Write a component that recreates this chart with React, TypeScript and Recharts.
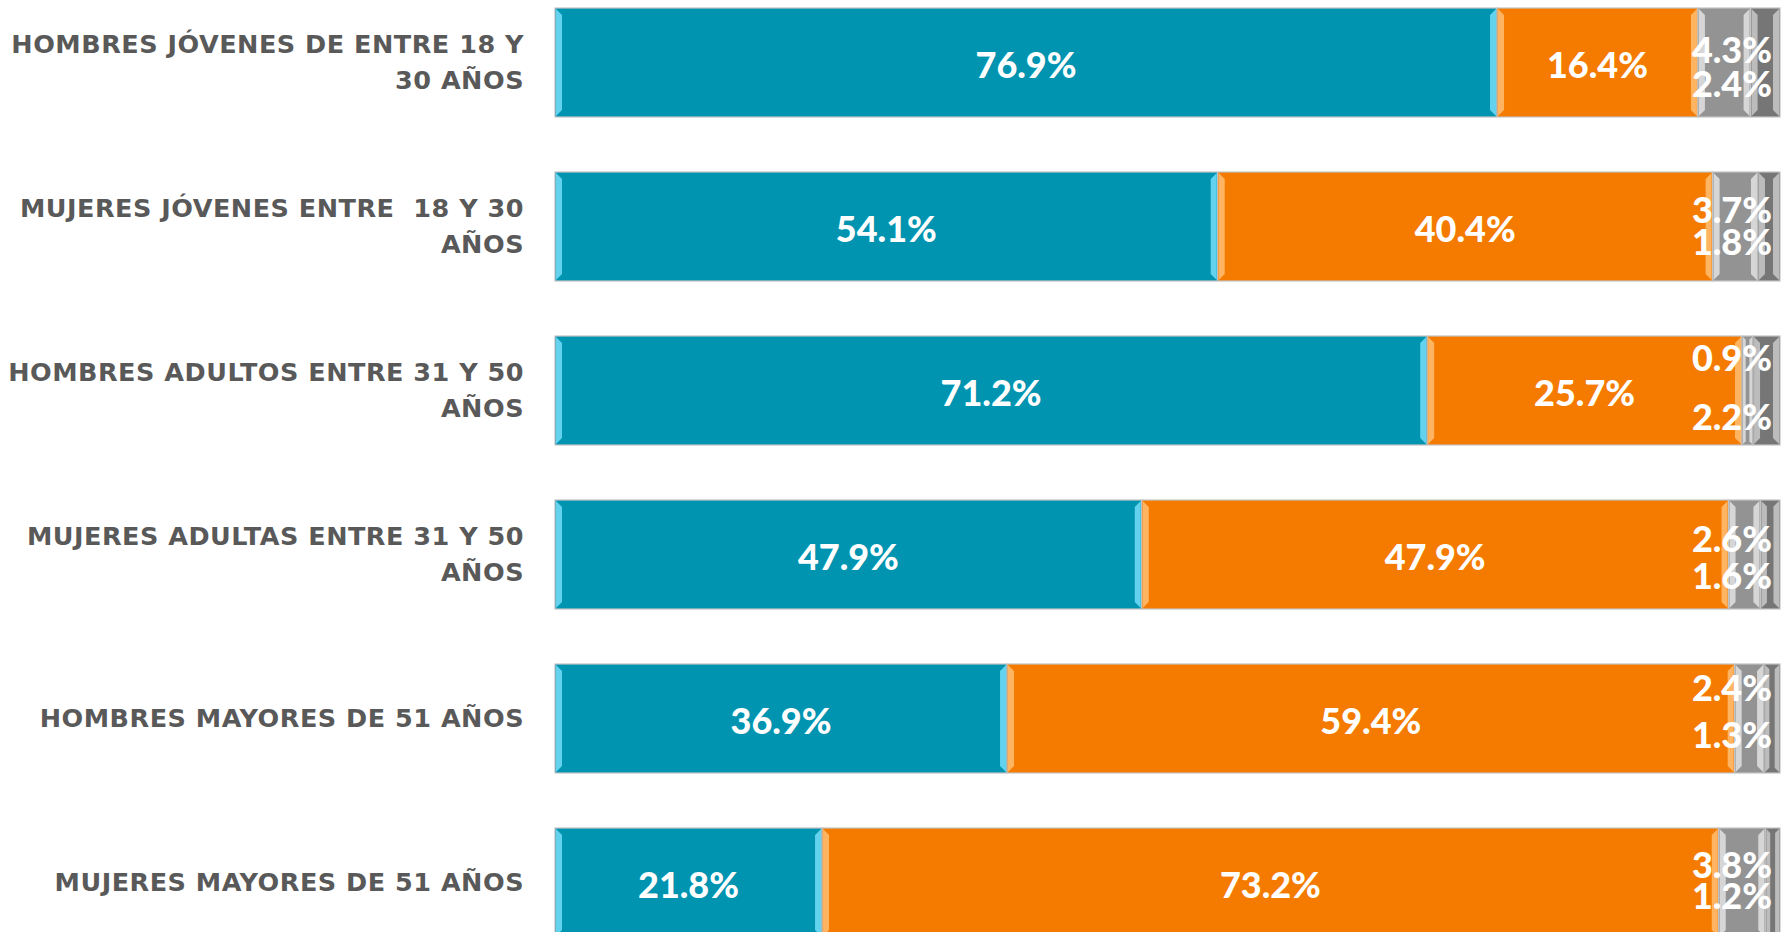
import React from 'react';
import { BarChart, Bar, XAxis, YAxis, LabelList } from 'recharts';

const categories = [
  'HOMBRES JÓVENES DE ENTRE 18 Y\n30 AÑOS',
  'MUJERES JÓVENES ENTRE  18 Y 30\nAÑOS',
  'HOMBRES ADULTOS ENTRE 31 Y 50\nAÑOS',
  'MUJERES ADULTAS ENTRE 31 Y 50\nAÑOS',
  'HOMBRES MAYORES DE 51 AÑOS',
  'MUJERES MAYORES DE 51 AÑOS',
];
const blueValues = [76.9, 54.1, 71.2, 47.9, 36.9, 21.8];
const orangeValues = [16.4, 40.4, 25.7, 47.9, 59.4, 73.2];
const grayValues = [4.3, 3.7, 0.9, 2.6, 2.4, 3.8];
const darkGrayValues = [2.4, 1.8, 2.2, 1.6, 1.3, 1.2];

// style: vertical nudges (px) of the two small grey labels per row
const GRAY_NUDGE = [
  [-12, 22],
  [-16, 16],
  [-32, 27],
  [-15, 22],
  [-30, 17],
  [-17, 14],
];

const data = categories.map((c, i) => ({
  name: c,
  blue: blueValues[i],
  orange: orangeValues[i],
  gray: grayValues[i],
  dark: darkGrayValues[i],
}));

const makeShape = (fill: string, light: string) => (props: any) => {
  const { x, y, width, height } = props;
  if (!width || !height) return null;
  const b = Math.min(7, width / 3);
  return (
    <g>
      <rect x={x} y={y} width={width} height={height} fill={fill} stroke="#c4c4c4" strokeWidth={1.2} />
      <polygon
        points={`${x + 1},${y + 1} ${x + b},${y + b} ${x + b},${y + height - b} ${x + 1},${y + height - 1}`}
        fill={light}
      />
      <polygon
        points={`${x + width - 1},${y + 1} ${x + width - b},${y + b} ${x + width - b},${y + height - b} ${x + width - 1},${y + height - 1}`}
        fill={light}
      />
    </g>
  );
};

const CategoryTick = (props: any) => {
  const { x, y, payload } = props;
  const lines: string[] = String(payload.value).split('\n');
  const lh = 36.5;
  const y0 = y - ((lines.length - 1) * lh) / 2;
  return (
    <g>
      {lines.map((l, i) => (
        <text
          key={i}
          x={x - 31}
          y={y0 + i * lh}
          dy="0.36em"
          textAnchor="end"
          fill="#595959"
          fontFamily="'DejaVu Sans', sans-serif"
          fontWeight="bold"
          fontSize={25.5}
          letterSpacing={0.5}
          style={{ whiteSpace: 'pre' }}
        >
          {l}
        </text>
      ))}
    </g>
  );
};

const valueFont = "Lato, 'DejaVu Sans', sans-serif";

const CenterLabel = (props: any) => {
  const { x, y, width, height, value } = props;
  return (
    <text
      x={x + width / 2}
      y={y + height / 2 + 3}
      dy="0.36em"
      textAnchor="middle"
      fill="#ffffff"
      fontFamily={valueFont}
      fontWeight={900}
      fontSize={36}
    >
      {`${Number(value).toFixed(1)}%`}
    </text>
  );
};

const RIGHT_TEXT_X = 1772;

const makeGrayLabel = (k: number) => (props: any) => {
  const { y, height, value, index } = props;
  const nudge = GRAY_NUDGE[index] ? GRAY_NUDGE[index][k] : 0;
  return (
    <text
      x={RIGHT_TEXT_X}
      y={y + height / 2 + nudge}
      dy="0.36em"
      textAnchor="end"
      fill="#ffffff"
      fontFamily={valueFont}
      fontWeight={900}
      fontSize={36}
    >
      {`${Number(value).toFixed(1)}%`}
    </text>
  );
};

export default function App() {
  return (
    <div
      style={{
        position: 'absolute',
        left: 0,
        top: 0,
        width: 1787,
        height: 932,
        overflow: 'hidden',
        background: '#ffffff',
      }}
    >
      <div style={{ position: 'absolute', left: 0, top: -20 }}>
        <BarChart
          width={1787}
          height={984}
          data={data}
          layout="vertical"
          margin={{ top: 0, right: 7, bottom: 0, left: 0 }}
          barSize={109}
        >
          <XAxis type="number" domain={[0, 100]} hide />
          <YAxis
            type="category"
            dataKey="name"
            width={555}
            axisLine={false}
            tickLine={false}
            tickSize={0}
            tickMargin={0}
            tick={<CategoryTick />}
            interval={0}
          />
          <Bar dataKey="blue" stackId="a" isAnimationActive={false} shape={makeShape('#0094B1', '#63d2ee')}>
            <LabelList dataKey="blue" content={CenterLabel} />
          </Bar>
          <Bar dataKey="orange" stackId="a" isAnimationActive={false} shape={makeShape('#F47B00', '#ffb462')}>
            <LabelList dataKey="orange" content={CenterLabel} />
          </Bar>
          <Bar dataKey="gray" stackId="a" isAnimationActive={false} shape={makeShape('#939393', '#d6d6d6')}>
            <LabelList dataKey="gray" content={makeGrayLabel(0)} />
          </Bar>
          <Bar dataKey="dark" stackId="a" isAnimationActive={false} shape={makeShape('#767676', '#bcbcbc')}>
            <LabelList dataKey="dark" content={makeGrayLabel(1)} />
          </Bar>
        </BarChart>
      </div>
    </div>
  );
}
